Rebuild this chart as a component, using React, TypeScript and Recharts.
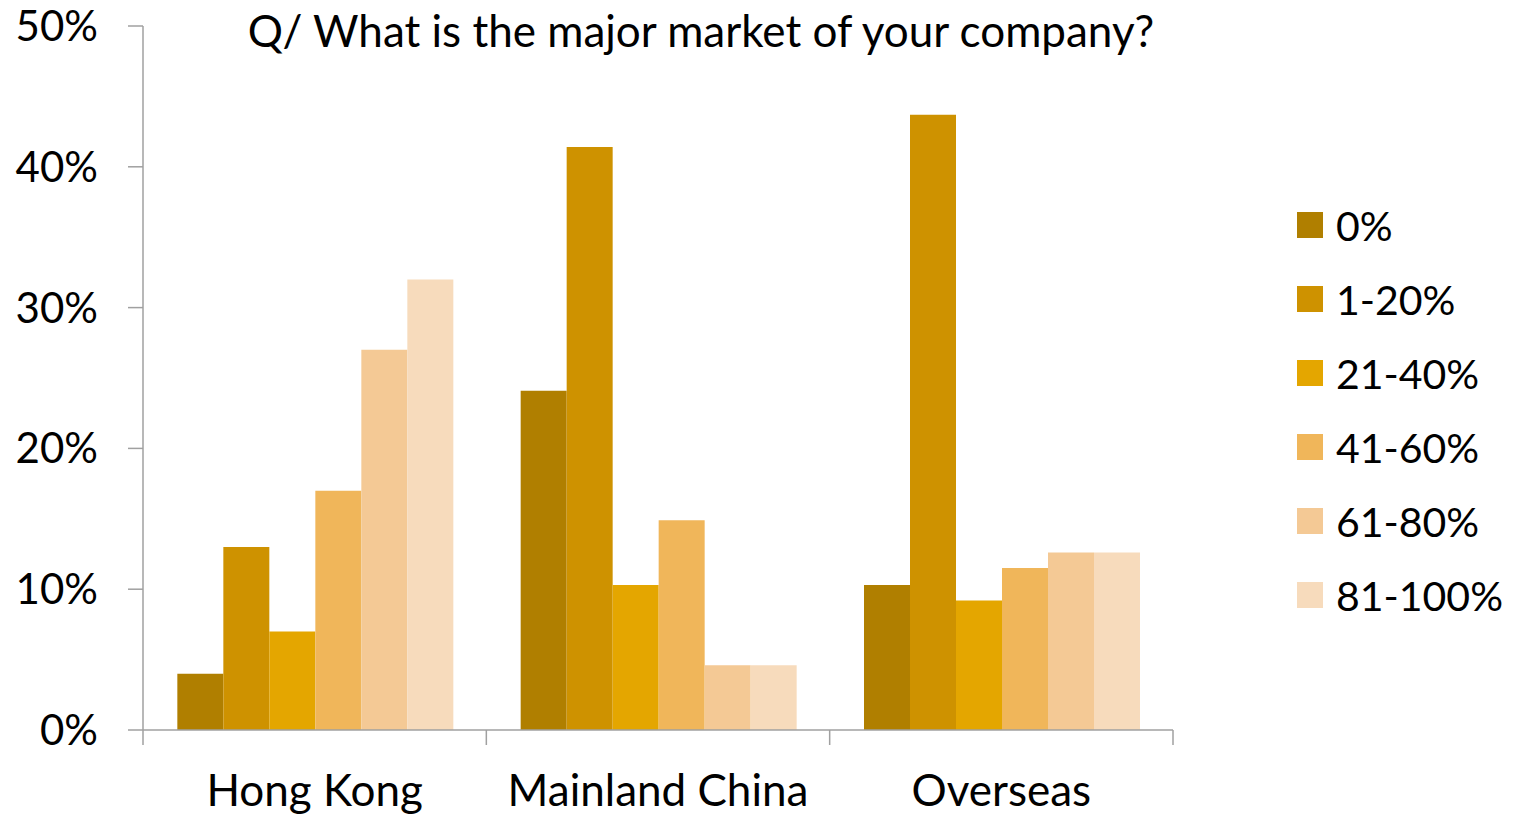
import { BarChart, Bar, XAxis, YAxis, Legend } from 'recharts';

const categories = ['Hong Kong', 'Mainland China', 'Overseas'];
const share0 = [4, 24.1, 10.3];
const share1to20 = [13, 41.4, 43.7];
const share21to40 = [7, 10.3, 9.2];
const share41to60 = [17, 14.9, 11.5];
const share61to80 = [27, 4.6, 12.6];
const share81to100 = [32, 4.6, 12.6];
const yTicks = [0, 10, 20, 30, 40, 50];
const groupEdges = [0, 1, 2, 3];

const SERIES = [
  { key: 's0', name: '0%', values: share0, color: '#B07F00' },
  { key: 's1', name: '1-20%', values: share1to20, color: '#CE9200' },
  { key: 's2', name: '21-40%', values: share21to40, color: '#E4A600' },
  { key: 's3', name: '41-60%', values: share41to60, color: '#F0B65A' },
  { key: 's4', name: '61-80%', values: share61to80, color: '#F4C995' },
  { key: 's5', name: '81-100%', values: share81to100, color: '#F7DBBC' },
];

const data = categories.map((name, i) => {
  const row: Record<string, string | number> = { name, edge: i };
  SERIES.forEach((s) => {
    row[s.key] = s.values[i];
  });
  return row;
});

const FONT = 'Lato, "Open Sans", sans-serif';
const AXIS = '#A0A0A0';

const renderLegend = () => (
  <div style={{ fontFamily: FONT, fontSize: 41, color: '#000' }}>
    {SERIES.map((s) => (
      <div key={s.key} style={{ display: 'flex', alignItems: 'center', height: 74 }}>
        <span style={{ width: 26, height: 26, background: s.color, marginRight: 13, display: 'inline-block' }} />
        <span>{s.name}</span>
      </div>
    ))}
  </div>
);

export default function App() {
  return (
    <div style={{ position: 'absolute', left: 0, top: 0, width: 1520, height: 817, background: '#fff' }}>
      <BarChart
        width={1520}
        height={817}
        data={data}
        margin={{ top: 26, right: 124, left: 0, bottom: 0 }}
        barGap={0}
        barCategoryGap="10%"
      >
        <text
          x={701}
          y={30}
          textAnchor="middle"
          dominantBaseline="central"
          style={{ fontFamily: FONT, fontSize: 44, fill: '#000' }}
        >
          Q/ What is the major market of your company?
        </text>
        <XAxis
          xAxisId="b"
          dataKey="name"
          axisLine={false}
          tickLine={false}
          height={72}
          tickMargin={24}
          tick={{ fontFamily: FONT, fontSize: 44, fill: '#000' }}
        />
        <XAxis
          xAxisId="a"
          dataKey="edge"
          type="number"
          domain={[0, 3]}
          ticks={groupEdges}
          interval={0}
          allowDataOverflow
          tickFormatter={() => ''}
          tickSize={15}
          height={15}
          stroke={AXIS}
          strokeWidth={1.5}
        />
        <YAxis
          domain={[0, 50]}
          ticks={yTicks}
          width={143}
          tickSize={15}
          tickMargin={30}
          stroke={AXIS}
          strokeWidth={1.5}
          tickFormatter={(v: number) => `${v}%`}
          tick={{ fontFamily: FONT, fontSize: 42, fill: '#000' }}
        />
        <Legend
          layout="vertical"
          align="right"
          verticalAlign="middle"
          content={renderLegend}
          wrapperStyle={{ left: 1297, right: 'auto', top: 188, width: 223 }}
        />
        {SERIES.map((s) => (
          <Bar
            key={s.key}
            xAxisId="b"
            dataKey={s.key}
            name={s.name}
            fill={s.color}
            isAnimationActive={false}
          />
        ))}
      </BarChart>
    </div>
  );
}
